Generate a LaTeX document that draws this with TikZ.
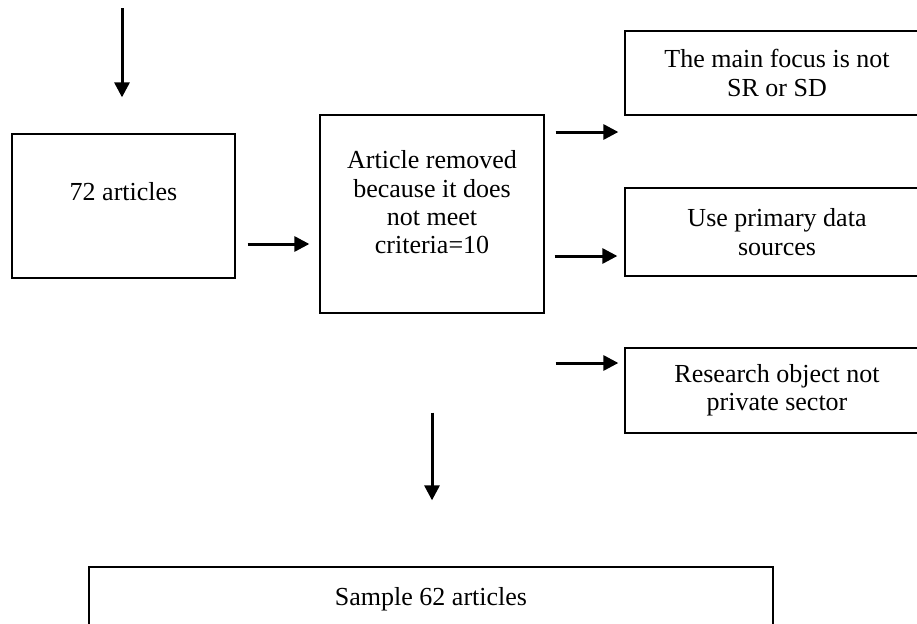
\documentclass[tikz,border=0pt]{standalone}
\usepackage{fontspec}
\setmainfont{Liberation Serif}
\usetikzlibrary{arrows.meta}
\begin{document}
\begin{tikzpicture}[x=1pt,y=-1pt,
  every node/.style={font=\fontsize{26}{28.3}\selectfont},
  boxnode/.style={draw=black,line width=1.3pt,rectangle,inner sep=0pt,align=center},
  txt/.style={inner sep=0pt,align=center},
  arr/.style={line width=3pt,-{Triangle[length=15pt,width=15pt]}}]
\path[use as bounding box,clip] (0,0) rectangle (917,623);
\fill[white] (0,0) rectangle (917,623);
% boxes
\node[boxnode,minimum width=223pt,minimum height=144pt] (a72) at (123.5,206) {};
\node[txt] (t72) at (123.5,192) {72 articles};
\node[boxnode,minimum width=224pt,minimum height=198pt] (rem) at (432,214) {};
\node[txt] (trem) at (432,202.5) {Article removed\\because it does\\not meet\\criteria=10};
\node[boxnode,minimum width=304pt,minimum height=84pt] (focus) at (777,73) {The main focus is not\\SR or SD};
\node[boxnode,minimum width=304pt,minimum height=88pt] (prim) at (777,232) {Use primary data\\sources};
\node[boxnode,minimum width=304pt,minimum height=85pt] (res) at (777,390.5) {Research object not\\private sector};
\node[boxnode,minimum width=684pt,minimum height=64pt] (samp) at (431,599) {Sample 62 articles};
% arrows
\draw[arr] ([shift={(-1.5,-125)}]a72.north) -- ([shift={(-1.5,-36)}]a72.north);
\draw[arr] ([shift={(12,38)}]a72.east) -- ([shift={(-10,30)}]rem.west);
\draw[arr] ([shift={(11,-82)}]rem.east) -- ([shift={(-6,59)}]focus.west);
\draw[arr] ([shift={(10,42)}]rem.east) -- ([shift={(-7,24)}]prim.west);
\draw[arr] ([shift={(11,149)}]rem.east) -- ([shift={(-6,-27.5)}]res.west);
\draw[arr] ([shift={(0,99)}]rem.south) -- ([shift={(1,-66)}]samp.north);
\end{tikzpicture}
\end{document}
